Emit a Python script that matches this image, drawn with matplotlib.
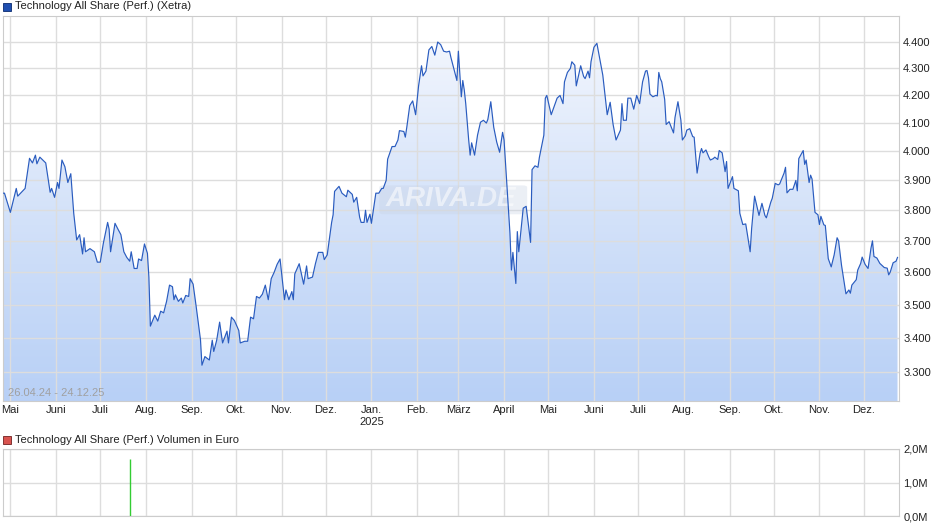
import numpy as np
import pandas as pd
import matplotlib.pyplot as plt
import matplotlib.dates as mdates
from matplotlib.patches import Rectangle, FancyBboxPatch
from matplotlib.colors import LinearSegmentedColormap
from matplotlib.ticker import FixedLocator, NullLocator, FuncFormatter

# ------------------------------------------------
#  Daten (Tage seit 26.04.2024, Indexstand)
# ------------------------------------------------
START = pd.Timestamp("2024-04-26")

day_offset = [
    0, 1, 5, 9, 10, 15, 18, 20, 22, 23, 25, 29, 32, 33, 35, 37, 38, 40, 42, 44,
    46, 48, 50, 52, 54, 55, 56, 59, 62, 64, 66, 68, 71, 72, 73, 76, 78, 80, 82, 84,
    86, 87, 89, 91, 92, 94, 96, 98, 99, 100, 103, 105, 107, 109, 111, 113, 115, 116, 117, 119,
    121, 122, 124, 126, 127, 129, 131, 134, 135, 137, 140, 142, 143, 145, 147, 149, 152, 153, 155, 157,
    160, 161, 164, 166, 168, 170, 172, 174, 176, 178, 180, 182, 184, 186, 188, 191, 192, 194, 196, 197,
    198, 201, 204, 206, 207, 210, 212,
    214, 217, 218, 220, 223, 224, 225, 228, 230, 233, 234, 237, 238, 240, 242, 243, 245, 246, 247, 249,
    250, 253, 255, 257, 258, 260, 261, 264, 266, 268, 269, 272, 273, 274, 276, 278, 280, 282, 284, 285,
    287, 289, 291, 293, 295, 297, 299, 301, 303, 304, 307, 308, 309, 310, 311, 312, 313, 314, 316, 317,
    318, 320, 322, 324, 326, 328, 329, 331, 333, 335, 337, 339, 340, 342, 344, 345, 346, 348, 349, 350,
    352, 353, 355, 358, 359, 361, 363, 364, 367, 368, 369, 372, 374, 376, 378, 380, 381, 383, 385, 386,
    388, 389, 392, 394, 395, 397, 398, 399, 401, 403, 405, 407, 410, 412, 414, 416,
    419, 420, 421, 423, 424, 426, 428, 430, 432, 434, 436, 437, 438, 439, 441, 443, 444, 445, 446, 447,
    449, 450, 452, 455, 456, 458, 460, 461, 463, 464, 466, 468, 469, 471, 473, 474, 475, 477, 479, 480,
    482, 483, 485, 486, 488, 490, 491, 492, 495, 496, 499, 500, 502, 504, 507, 508, 510, 513, 515, 517,
    518, 521, 522, 524, 526, 527, 530, 531, 532, 534, 536, 538, 539, 540, 543, 544, 545, 547, 548, 549,
    551, 553, 554, 555, 557, 558, 560, 562, 564, 566, 567, 569, 572, 574, 575, 576, 579, 580, 582, 583,
    585, 587, 589, 590, 591, 593, 595, 598, 600, 601, 602, 604, 606, 607,
]

index_value = [
    3857, 3857, 3793, 3873, 3847, 3873, 3976, 3960, 3987, 3957, 3980, 3960, 3860, 3873, 3843, 3893, 3873, 3970, 3947, 3893,
    3923, 3790, 3703, 3720, 3658, 3710, 3665, 3675, 3665, 3632, 3632, 3690, 3760, 3738, 3665, 3757, 3738, 3720, 3665, 3647,
    3635, 3665, 3612, 3612, 3642, 3637, 3690, 3660, 3585, 3435, 3468, 3450, 3480, 3475, 3510, 3560, 3555, 3515, 3530, 3510,
    3520, 3505, 3528, 3525, 3580, 3563, 3497, 3395, 3320, 3345, 3335, 3393, 3360, 3393, 3447, 3385, 3420, 3385, 3462, 3452,
    3422, 3385, 3390, 3390, 3462, 3457, 3525, 3520, 3532, 3560, 3515, 3580, 3600, 3625, 3642, 3515, 3545, 3515, 3540, 3515,
    3595, 3627, 3563, 3620, 3580, 3585, 3627,
    3663, 3663, 3640, 3655, 3760, 3785, 3863, 3880, 3857, 3845, 3867, 3853, 3827, 3843, 3777, 3760, 3760, 3800, 3760, 3787,
    3757, 3857, 3857, 3873, 3873, 3900, 3973, 4017, 4017, 4040, 4073, 4070, 4050, 4085, 4163, 4180, 4130, 4235, 4310, 4272,
    4290, 4370, 4383, 4350, 4400, 4390, 4365, 4362, 4365, 4340, 4275, 4255, 4365, 4280, 4195, 4255, 4220, 4170, 4040, 3987,
    4030, 3987, 4057, 4103, 4110, 4100, 4113, 4177, 4085, 4033, 3997, 4067, 4040, 3877, 3725, 3607, 3663, 3565, 3730, 3665,
    3757, 3807, 3813, 3695, 3937, 3950, 3945, 3980, 4057, 4190, 4200, 4130, 4160, 4190, 4200, 4170, 4250, 4285, 4300, 4325,
    4312, 4235, 4310, 4270, 4262, 4290, 4265, 4325, 4380, 4395, 4335, 4275, 4130, 4175, 4095, 4040,
    4075, 4170, 4110, 4110, 4190, 4190, 4150, 4200, 4170, 4250, 4290, 4292, 4265, 4205, 4195, 4200, 4198, 4285, 4262, 4250,
    4185, 4095, 4105, 4065, 4120, 4177, 4110, 4040, 4055, 4075, 4080, 4052, 4050, 3925, 3993, 4010, 3995, 4005, 3980, 3970,
    3975, 3980, 3972, 4003, 3995, 3930, 3965, 3873, 3913, 3873, 3865, 3790, 3753, 3755, 3665, 3740, 3847, 3783, 3823, 3783,
    3775, 3827, 3840, 3890, 3885, 3888, 3925, 3945, 3858, 3870, 3870, 3900, 3865, 3975, 4003, 3955, 3970, 3893, 3918, 3905,
    3793, 3785, 3753, 3780, 3752, 3750, 3643, 3617, 3655, 3710, 3700, 3622, 3533, 3545, 3535, 3560, 3577, 3607, 3628, 3648,
    3625, 3612, 3677, 3700, 3650, 3645, 3628, 3615, 3613, 3592, 3600, 3630, 3635, 3647,
]

vol_day = [86]
vol_value = [1.7e6]

MONTH_LABELS = ["Mai", "Juni", "Juli", "Aug.", "Sep.", "Okt.", "Nov.", "Dez.", "Jan.\n2025",
                "Feb.", "März", "April", "Mai", "Juni", "Juli", "Aug.", "Sep.", "Okt.", "Nov.", "Dez."]
Y_TICKS = [3300, 3400, 3500, 3600, 3700, 3800, 3900, 4000, 4100, 4200, 4300, 4400]

LINE_COLOR = "#2a5cbf"
GRID_COLOR = "#dddddd"
TEXT_COLOR = "#222222"

plt.rcParams['font.family'] = ['Liberation Sans', 'DejaVu Sans']

dates = START + pd.to_timedelta(day_offset, unit="D")
vol_dates = START + pd.to_timedelta(vol_day, unit="D")
month_ticks = pd.date_range("2024-05-01", "2025-12-01", freq="MS")
x_min = START
x_max = START + pd.Timedelta(days=608)

fig = plt.figure(figsize=(9.4, 5.26), dpi=100)

# ------------------------------------------------
#  Kurs-Chart
# ------------------------------------------------
ax = fig.add_axes([3 / 940, 1 - 401 / 526, 896 / 940, 385 / 526])
ax.set_yscale("log")
y_lo, y_hi = 3218, 4501

# Verlauf unter der Linie
cmap = LinearSegmentedColormap.from_list("fill", ["#b8d0f6", "#f7f9fe"])
grad = np.linspace(0, 1, 256).reshape(-1, 1)
img = ax.imshow(grad, cmap=cmap, aspect="auto", origin="lower",
                extent=[mdates.date2num(x_min), mdates.date2num(x_max), y_lo, y_hi],
                zorder=1)
poly = ax.fill_between(dates, index_value, y_lo, color="none", zorder=1)
img.set_clip_path(poly.get_paths()[0], transform=ax.transData)
ax.set_xlim(x_min, x_max)
ax.set_ylim(y_lo, y_hi)

ax.plot(dates, index_value, color=LINE_COLOR, lw=0.85, zorder=3)

ax.yaxis.set_major_locator(FixedLocator(Y_TICKS))
ax.yaxis.set_minor_locator(NullLocator())
ax.yaxis.set_major_formatter(FuncFormatter(lambda v, p: f"{v:,.0f}".replace(",", ".")))
ax.yaxis.tick_right()
ax.set_xticks(month_ticks)
ax.set_xticklabels(MONTH_LABELS)
ax.tick_params(axis="both", length=0, labelsize=8, colors=TEXT_COLOR, pad=3)
ax.grid(True, color=GRID_COLOR, lw=1)
for line in ax.get_xgridlines() + ax.get_ygridlines():
    line.set_zorder(2)
for s in ax.spines.values():
    s.set_color("#cccccc")

ax.text(0.006, 0.012, "26.04.24 - 24.12.25", transform=ax.transAxes,
        fontsize=8, color="#a0a0a0", zorder=4)
ax.add_patch(FancyBboxPatch((0.425, 0.49), 0.155, 0.065, transform=ax.transAxes,
                            boxstyle="round,pad=0.005", facecolor="#c8d2e4", edgecolor="none",
                            alpha=0.35, zorder=2))
ax.text(0.5, 0.525, "ARIVA.DE", transform=ax.transAxes, fontsize=20,
        fontstyle="italic", fontweight="bold", color="#ffffff", alpha=0.55,
        ha="center", va="center", zorder=2)

# Legenden-Kopf
fig.patches.append(Rectangle((3 / 940, 1 - 11 / 526), 8 / 940, 8 / 526, transform=fig.transFigure,
                             facecolor="#1f4fb0", edgecolor="#0a2a70", lw=0.6))
fig.text(15 / 940, 1 - 6 / 526, "Technology All Share (Perf.) (Xetra)", fontsize=8,
         color=TEXT_COLOR, va="center")

# ------------------------------------------------
#  Volumen-Chart
# ------------------------------------------------
axv = fig.add_axes([3 / 940, 1 - 516 / 526, 896 / 940, 67 / 526])
axv.set_xlim(x_min, x_max)
axv.set_ylim(0, 2e6)
axv.vlines(vol_dates, 0, vol_value, color="#33cc33", lw=1, zorder=3)
axv.set_xticks(month_ticks)
axv.set_xticklabels([])
axv.set_yticks([0, 1e6, 2e6])
axv.yaxis.set_major_formatter(FuncFormatter(lambda v, p: f"{v / 1e6:.1f}M".replace(".", ",")))
axv.yaxis.tick_right()
axv.tick_params(axis="both", length=0, labelsize=8, colors=TEXT_COLOR, pad=3)
axv.grid(True, color=GRID_COLOR, lw=1, zorder=1)
for s in axv.spines.values():
    s.set_color("#cccccc")

fig.patches.append(Rectangle((3 / 940, 1 - 444 / 526), 8 / 940, 8 / 526, transform=fig.transFigure,
                             facecolor="#d9534f", edgecolor="#702020", lw=0.6))
fig.text(15 / 940, 1 - 440 / 526, "Technology All Share (Perf.) Volumen in Euro", fontsize=8,
         color=TEXT_COLOR, va="center")

fig.savefig("out.png", dpi=100)
